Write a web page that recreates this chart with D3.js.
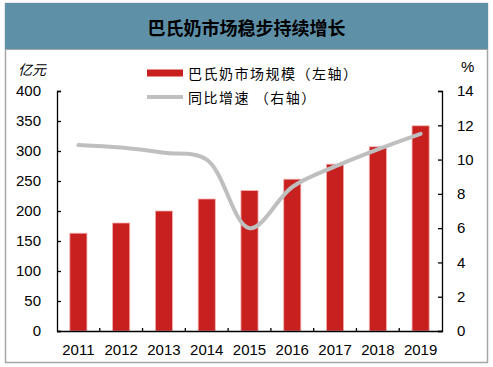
<!DOCTYPE html>
<html>
<head>
<meta charset="utf-8">
<script src="https://cdn.jsdelivr.net/npm/d3@7"></script>
<style>
  html, body { margin: 0; padding: 0; background: #fff; }
  svg { display: block; }
  .num { font-family: "Liberation Sans", Arial, sans-serif; font-size: 15px; fill: #000; }
  .cjk { font-family: "Noto Sans CJK SC", sans-serif; }
</style>
</head>
<body>
<svg id="chart"></svg>
<script>
'use strict';

const width = 493;
const height = 367;

// data
const years = ['2011', '2012', '2013', '2014', '2015', '2016', '2017', '2018', '2019'];
const marketSize = [163, 180, 200, 220, 234, 253, 278, 307, 342];   // 亿元, left axis
const growthRate = [10.85, 10.7, 10.4, 10.0, 6.0, 8.4, 9.6, 10.6, 11.5]; // %, right axis
const leftTicks = [0, 50, 100, 150, 200, 250, 300, 350, 400];
const rightTicks = [0, 2, 4, 6, 8, 10, 12, 14];

const plot = { left: 57, right: 442, top: 91, bottom: 331 };
const barColor = '#C8201F';
const lineColor = '#BFBFBF';

const svg = d3.select('#chart').attr('width', width).attr('height', height);

// frame + title bar
svg.append('rect')
    .attr('x', 5.5).attr('y', 3.5)
    .attr('width', 482).attr('height', 359)
    .attr('fill', '#fff')
    .attr('stroke', '#A6A6A6')
    .attr('stroke-width', 1.5);

svg.append('rect')
    .attr('x', 5).attr('y', 3)
    .attr('width', 483).attr('height', 46)
    .attr('fill', '#5E90A8');

svg.append('line')
    .attr('x1', 5).attr('x2', 488)
    .attr('y1', 49.5).attr('y2', 49.5)
    .attr('stroke', '#A6A6A6');

svg.append('text')
    .attr('class', 'cjk')
    .attr('x', 246.5).attr('y', 27)
    .attr('text-anchor', 'middle')
    .attr('dominant-baseline', 'central')
    .attr('font-size', 18)
    .attr('font-weight', 'bold')
    .text('巴氏奶市场稳步持续增长');

// scales
const x = d3.scaleBand()
    .domain(years)
    .range([plot.left, plot.right])
    .paddingInner(0.6)
    .paddingOuter(0.3);

const yLeft = d3.scaleLinear().domain([0, 400]).range([plot.bottom, plot.top]);
const yRight = d3.scaleLinear().domain([0, 14]).range([plot.bottom, plot.top]);

// bars
svg.append('g')
    .selectAll('rect')
    .data(years)
    .join('rect')
    .attr('x', d => x(d))
    .attr('y', (d, i) => yLeft(marketSize[i]))
    .attr('width', x.bandwidth())
    .attr('height', (d, i) => yLeft(0) - yLeft(marketSize[i]))
    .attr('fill', barColor)
    .attr('stroke', '#F3B0B0')
    .attr('stroke-width', 0.8);

// growth line
const line = d3.line()
    .x((d, i) => x(years[i]) + x.bandwidth() / 2)
    .y(d => yRight(d))
    .curve(d3.curveCatmullRom.alpha(0.5));

svg.append('path')
    .datum(growthRate)
    .attr('d', line)
    .attr('fill', 'none')
    .attr('stroke', lineColor)
    .attr('stroke-width', 4)
    .attr('stroke-linecap', 'round');

// left axis
svg.append('g')
    .attr('transform', `translate(${plot.left}, 0)`)
    .call(d3.axisLeft(yLeft).tickValues(leftTicks).tickSize(-4).tickSizeOuter(-4).tickPadding(16))
    .call(g => g.select('.domain').attr('stroke', '#000').attr('stroke-width', 1.3))
    .call(g => g.selectAll('.tick line').attr('stroke', '#000').attr('stroke-width', 1.3))
    .call(g => g.selectAll('text').attr('class', 'num').attr('font-size', null).attr('font-family', null));

// right axis
svg.append('g')
    .attr('transform', `translate(${plot.right}, 0)`)
    .call(d3.axisRight(yRight).tickValues(rightTicks).tickSize(-4).tickSizeOuter(-4).tickPadding(15))
    .call(g => g.select('.domain').attr('stroke', '#000').attr('stroke-width', 1.3))
    .call(g => g.selectAll('.tick line').attr('stroke', '#000').attr('stroke-width', 1.3))
    .call(g => g.selectAll('text').attr('class', 'num').attr('font-size', null).attr('font-family', null));

// bottom axis: labels, then category boundary ticks
svg.append('g')
    .attr('transform', `translate(0, ${plot.bottom})`)
    .call(d3.axisBottom(x).tickSize(0).tickPadding(13))
    .call(g => g.select('.domain').attr('stroke', '#000').attr('stroke-width', 1.3))
    .call(g => g.selectAll('text').attr('class', 'num').attr('font-size', null).attr('font-family', null));

const step = x.step();
svg.append('g')
    .selectAll('line')
    .data(years.slice(1))
    .join('line')
    .attr('x1', d => x(d) - step * x.paddingInner() / 2)
    .attr('x2', d => x(d) - step * x.paddingInner() / 2)
    .attr('y1', plot.bottom)
    .attr('y2', plot.bottom - 3)
    .attr('stroke', '#000')
    .attr('stroke-width', 1.3);

// unit labels
svg.append('text')
    .attr('class', 'cjk')
    .attr('x', 18).attr('y', 69)
    .attr('dominant-baseline', 'central')
    .attr('font-size', 14)
    .attr('font-style', 'italic')
    .text('亿元');

svg.append('text')
    .attr('class', 'num')
    .attr('x', 461).attr('y', 66)
    .attr('dominant-baseline', 'central')
    .text('%');

// legend
const legend = svg.append('g');
legend.append('rect')
    .attr('x', 147).attr('y', 69.5)
    .attr('width', 36).attr('height', 7)
    .attr('fill', barColor);
legend.append('text')
    .attr('class', 'cjk')
    .attr('x', 188).attr('y', 73)
    .attr('dominant-baseline', 'central')
    .attr('font-size', 14)
    .attr('letter-spacing', 1.5)
    .text('巴氏奶市场规模（左轴）');
legend.append('line')
    .attr('x1', 147).attr('x2', 183)
    .attr('y1', 97).attr('y2', 97)
    .attr('stroke', lineColor)
    .attr('stroke-width', 4);
legend.append('text')
    .attr('class', 'cjk')
    .attr('x', 188).attr('y', 97)
    .attr('dominant-baseline', 'central')
    .attr('font-size', 14)
    .attr('letter-spacing', 1.5)
    .text('同比增速 （右轴）');
</script>
</body>
</html>
